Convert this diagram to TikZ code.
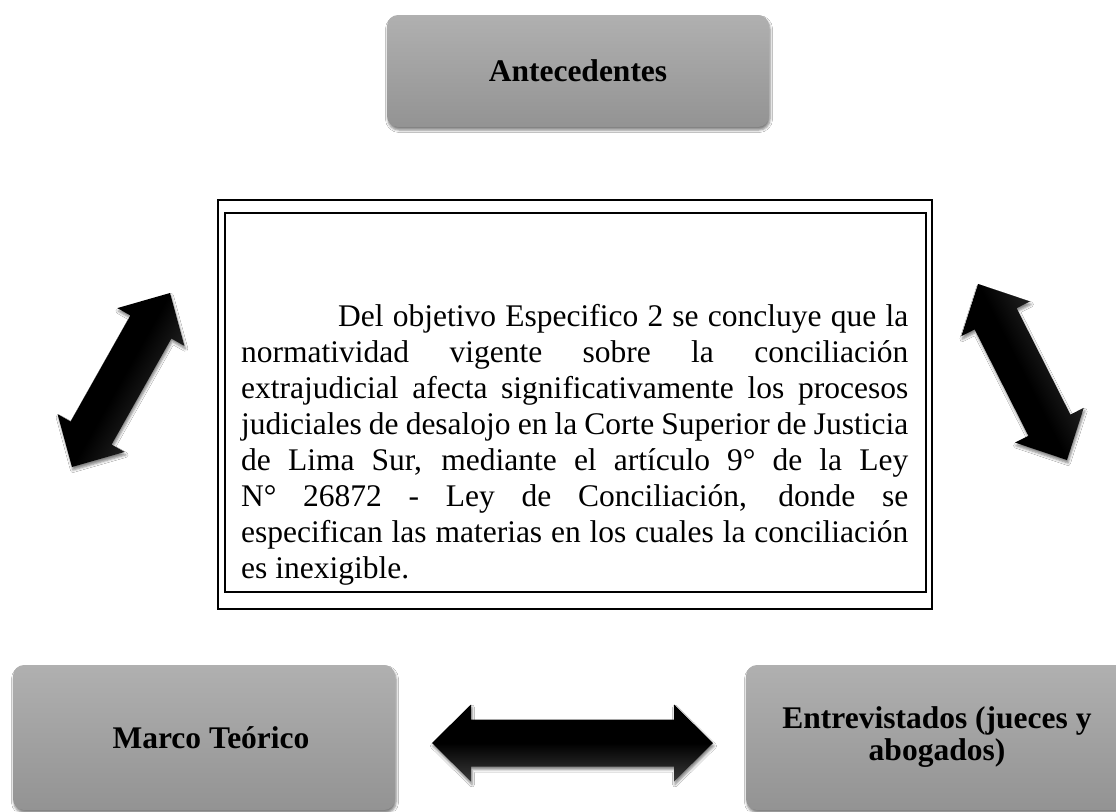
\documentclass[tikz,border=0pt]{standalone}
\usepackage{fontspec}
\setmainfont{Liberation Serif}
\usetikzlibrary{shadows.blur}
\definecolor{boxtop}{HTML}{B0B0B0}
\definecolor{boxbot}{HTML}{939393}
\definecolor{arrowlow}{HTML}{3A3A3A}
\tikzset{
  softshadow/.style={preaction={draw=none, fill=none,
    blur shadow={shadow xshift=#1, shadow yshift=-3pt, shadow blur radius=2.5pt, shadow opacity=50}}},
  graybox/.style={rectangle, rounded corners=11pt, softshadow=1pt,
    top color=boxtop, bottom color=boxbot,
    draw=none, minimum width=382pt, inner sep=0pt, outer sep=0pt, align=center,
    font=\fontsize{31.5}{32}\selectfont\bfseries},
  outerframe/.style={rectangle, draw=black, line width=1.6pt, inner sep=0pt, outer sep=0pt},
  innerframe/.style={rectangle, draw=black, line width=1.2pt, inner sep=0pt, outer sep=0pt},
  blockarrow/.style={softshadow=1pt, top color=black, bottom color=arrowlow, middle color=black,
    shading angle=#1}
}
\newcommand\BlockArrow[4]{% center x, center y, angle, length
  \begin{scope}[shift={(#1,#2)}, rotate=#3]
    \path[blockarrow=#3] ({-#4/2},0) -- ({-#4/2+39},38.5) -- ({-#4/2+39},23.5)
      -- ({#4/2-39},23.5) -- ({#4/2-39},38.5) -- ({#4/2},0)
      -- ({#4/2-39},-38.5) -- ({#4/2-39},-23.5) -- ({-#4/2+39},-23.5)
      -- ({-#4/2+39},-38.5) -- cycle;
  \end{scope}}
\begin{document}
\begin{tikzpicture}[x=1pt, y=-1pt, font=\fontsize{31.5}{36}\selectfont]
\useasboundingbox[fill=white] (0,0) rectangle (1116,811);

% gray boxes
\node[graybox, minimum height=112pt] (ant) at (578,71) {Antecedentes};
\node[graybox, minimum height=145pt] (marco) at (204,737.5) {\hspace*{14pt}Marco Teórico};
\node[graybox, minimum height=145pt] (entr) at (937,737.5) {Entrevistados (jueces y\\abogados)};

% central framed text
\node[outerframe, minimum width=714pt, minimum height=409pt] (outer) at (575,404.5) {};
\node[innerframe, minimum width=701pt, minimum height=379pt] (inner) at (575.5,402.5) {};
\node[anchor=base west, text width=667pt, align=justify, inner sep=0pt] (body) at (241,326)
{\tolerance=10000\hyphenpenalty=10000\exhyphenpenalty=10000
\hspace*{97pt}Del objetivo Especifico 2 se concluye que la\linebreak
normatividad vigente sobre la conciliación\linebreak
extrajudicial afecta significativamente los procesos\linebreak
judiciales de desalojo en la Corte Superior de Justicia\linebreak
de Lima Sur, mediante el artículo 9° de la Ley\linebreak
N° 26872 - Ley de Conciliación, donde se\linebreak
especifican las materias en los cuales la conciliación\linebreak
es inexigible.};

% block arrows
\BlockArrow{121}{380}{60.6}{199.7}
\BlockArrow{1022.5}{372}{116.8}{197.2}
\BlockArrow{572.5}{743}{0}{281}
\end{tikzpicture}
\end{document}
